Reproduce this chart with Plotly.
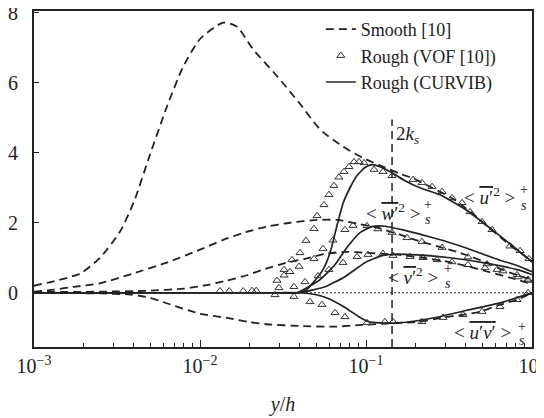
import math
import plotly.graph_objects as go

# ---------------- data ----------------
# Smooth [10] (dashed)
smooth_u_x = [0.001, 0.0019, 0.0025, 0.0033, 0.0040, 0.0050, 0.0063, 0.0079, 0.010, 0.0138, 0.0167, 0.021,
              0.029, 0.040, 0.053, 0.073, 0.095, 0.12, 0.16, 0.19, 0.25, 0.33, 0.43, 0.50, 0.57, 0.74, 0.85, 1.0]
smooth_u_y = [0.2, 0.55, 1.0, 1.75, 2.6, 3.95, 5.3, 6.45, 7.25, 7.72, 7.6, 6.94,
              6.2, 5.4, 4.66, 4.17, 3.86, 3.65, 3.4, 3.28, 3.0, 2.7, 2.3, 2.03, 1.8, 1.35, 1.15, 0.88]

smooth_w_x = [0.001, 0.00132, 0.00174, 0.0025, 0.00395, 0.0063, 0.010, 0.0138, 0.0182, 0.0253, 0.0348, 0.0507,
              0.0669, 0.092, 0.1165, 0.16, 0.192, 0.268, 0.368, 0.536, 0.668, 0.847, 1.0]
smooth_w_y = [0.03, 0.09, 0.17, 0.27, 0.55, 0.86, 1.23, 1.51, 1.71, 1.89, 2.0, 2.08,
              2.08, 1.96, 1.86, 1.66, 1.53, 1.33, 1.14, 0.86, 0.65, 0.48, 0.38]

smooth_v_x = [0.001, 0.0025, 0.005, 0.0080, 0.0110, 0.01455, 0.0192, 0.024, 0.0334, 0.0429, 0.0582, 0.0769,
              0.1014, 0.1396, 0.16, 0.2204, 0.3076, 0.406, 0.543, 0.737, 1.0]
smooth_v_y = [0.02, 0.03, 0.06, 0.12, 0.22, 0.35, 0.5, 0.66, 0.86, 0.97, 1.12, 1.17,
              1.14, 1.1, 1.08, 1.0, 0.89, 0.76, 0.6, 0.43, 0.25]

smooth_uv_x = [0.001, 0.0025, 0.0038, 0.005, 0.0063, 0.010, 0.0146, 0.020, 0.0253, 0.040, 0.0633, 0.0946,
               0.156, 0.211, 0.291, 0.384, 0.486, 0.641, 0.812, 1.0]
smooth_uv_y = [0.0, -0.02, -0.05, -0.14, -0.3, -0.6, -0.72, -0.84, -0.9, -0.95, -0.97, -0.92,
               -0.86, -0.83, -0.71, -0.63, -0.54, -0.34, -0.2, 0.0]

# Rough (CURVIB) (solid)
curvib_u_x = [0.001, 0.03, 0.0384, 0.0428, 0.048, 0.0551, 0.0607, 0.0659, 0.0727, 0.0801, 0.0883, 0.0986, 0.1087,
              0.1214, 0.1435, 0.1717, 0.211, 0.279, 0.406, 0.558, 0.737, 0.933, 1.0]
curvib_u_y = [0.0, 0.0, 0.0, 0.05, 0.29, 0.66, 1.14, 1.8, 2.55, 3.0, 3.35, 3.58, 3.66,
              3.6, 3.43, 3.2, 3.0, 2.8, 2.35, 1.85, 1.4, 1.0, 0.9]

curvib_w_x = [0.001, 0.03, 0.0384, 0.0528, 0.065, 0.0772, 0.092, 0.1087, 0.130, 0.1717, 0.253, 0.321, 0.406,
              0.507, 0.641, 0.812, 1.0]
curvib_w_y = [0.0, 0.0, 0.0, 0.37, 0.8, 1.31, 1.72, 1.89, 1.9, 1.78, 1.57, 1.43, 1.27,
              1.1, 0.93, 0.78, 0.6]

curvib_v_x = [0.001, 0.03, 0.040, 0.048, 0.0566, 0.0747, 0.0986, 0.1248, 0.1496, 0.2028, 0.321, 0.507, 0.812, 1.0]
curvib_v_y = [0.0, 0.0, 0.0, 0.08, 0.17, 0.46, 0.86, 1.06, 1.1, 1.08, 1.0, 0.86, 0.66, 0.52]

curvib_uv_x = [0.001, 0.03, 0.040, 0.0493, 0.0582, 0.0747, 0.0895, 0.1028, 0.1214, 0.160, 0.2028, 0.268, 0.406,
               0.641, 0.812, 1.0]
curvib_uv_y = [0.0, 0.0, 0.0, -0.05, -0.15, -0.42, -0.67, -0.82, -0.86, -0.86, -0.8, -0.7, -0.5,
               -0.29, -0.14, 0.0]

# Rough (VOF [10]) (triangles)
vof_u_x = [0.0132, 0.0150, 0.0182, 0.0206, 0.0218, 0.0291, 0.0321, 0.0358, 0.0400, 0.0435, 0.0486, 0.0507,
           0.0558, 0.0598, 0.0641, 0.0687, 0.0737, 0.0790, 0.0847, 0.0907, 0.0973, 0.1117, 0.1266, 0.1435,
           0.1920, 0.2175, 0.2500, 0.2870, 0.3297, 0.3787, 0.4236, 0.5000, 0.5742, 0.7364, 0.8472, 0.9594]
vof_u_y = [0.05, 0.05, 0.05, 0.06, 0.06, 0.35, 0.66, 0.94, 1.14, 1.49, 1.83, 2.2,
           2.51, 2.8, 3.06, 3.3, 3.46, 3.6, 3.74, 3.74, 3.71, 3.52, 3.46, 3.34,
           3.23, 3.14, 3.03, 2.89, 2.71, 2.57, 2.31, 2.03, 1.8, 1.33, 1.2, 0.97]

vof_w_x = [0.0321, 0.0348, 0.0395, 0.0486, 0.0551, 0.0632, 0.0747, 0.0835, 0.1014, 0.1181, 0.1435, 0.1766,
           0.2175, 0.2870, 0.4113, 0.5358, 0.6683, 0.8241, 0.9462]
vof_w_y = [0.5, 0.6, 0.75, 0.97, 1.26, 1.5, 1.8, 1.92, 1.91, 1.82, 1.72, 1.57,
           1.46, 1.29, 1.02, 0.82, 0.62, 0.45, 0.35]

vof_v_x = [0.0299, 0.0368, 0.0429, 0.0514, 0.0598, 0.0727, 0.0883, 0.1028, 0.1266, 0.1455, 0.1841, 0.2205,
           0.2679, 0.3297, 0.4113, 0.5212, 0.6152, 0.8128, 0.9462]
vof_v_y = [0.14, 0.17, 0.31, 0.48, 0.66, 0.86, 1.03, 1.09, 1.12, 1.06, 1.03, 1.0,
           0.94, 0.88, 0.8, 0.71, 0.66, 0.51, 0.38]

vof_uv_x = [0.0283, 0.0368, 0.0460, 0.0543, 0.0650, 0.0747, 0.1014, 0.1300, 0.1455, 0.2175, 0.2911, 0.3839,
            0.5000, 0.6412, 0.8128, 0.9462]
vof_uv_y = [-0.06, -0.11, -0.26, -0.34, -0.57, -0.69, -0.86, -0.83, -0.83, -0.83, -0.71, -0.63,
            -0.54, -0.4, -0.2, 0.0]

two_ks = 0.1435  # y/h position of 2k_s
two_ks_y = [-1.55, 4.95]

x_tick_vals = [0.001, 0.01, 0.1, 1]
x_tick_text = ["10<sup>\u22123</sup>", "10<sup>\u22122</sup>", "10<sup>\u22121</sup>", "10<sup>0</sup>"]
x_minor_vals = [m * d for d in (0.001, 0.01, 0.1) for m in range(2, 10)]
y_tick_vals = [0, 2, 4, 6, 8]
y_tick_text = ["0", "2", "4", "6", "8"]

# ---------------- figure ----------------
INK = "#222222"
FONT = "Liberation Serif, Times New Roman, DejaVu Serif, serif"
DASH = "8px,5px"

fig = go.Figure()

# dotted zero reference line
fig.add_trace(go.Scatter(x=[0.001, 1.0], y=[0, 0], mode="lines",
                         line=dict(color=INK, width=1, dash="2px,2px"),
                         showlegend=False, hoverinfo="skip"))
# 2k_s vertical marker
fig.add_trace(go.Scatter(x=[two_ks, two_ks], y=two_ks_y, mode="lines",
                         line=dict(color=INK, width=1.5, dash=DASH),
                         showlegend=False, hoverinfo="skip"))

smooth = [(smooth_u_x, smooth_u_y), (smooth_w_x, smooth_w_y), (smooth_v_x, smooth_v_y), (smooth_uv_x, smooth_uv_y)]
for i, (xs, ys) in enumerate(smooth):
    fig.add_trace(go.Scatter(x=xs, y=ys, mode="lines", name="Smooth [10]",
                             line=dict(color=INK, width=1.8, dash=DASH, shape="spline", smoothing=0.6),
                             showlegend=(i == 0), legendrank=1))

vof = [(vof_u_x, vof_u_y), (vof_w_x, vof_w_y), (vof_v_x, vof_v_y), (vof_uv_x, vof_uv_y)]
for i, (xs, ys) in enumerate(vof):
    fig.add_trace(go.Scatter(x=xs, y=ys, mode="markers", name="Rough (VOF [10])",
                             marker=dict(symbol="triangle-up-open", size=7, color="#333333",
                                         line=dict(width=1, color="#333333")),
                             showlegend=(i == 0), legendrank=2))

curvib = [(curvib_u_x, curvib_u_y), (curvib_w_x, curvib_w_y), (curvib_v_x, curvib_v_y), (curvib_uv_x, curvib_uv_y)]
for i, (xs, ys) in enumerate(curvib):
    fig.add_trace(go.Scatter(x=xs, y=ys, mode="lines", name="Rough (CURVIB)",
                             line=dict(color=INK, width=1.7, shape="spline", smoothing=0.5),
                             showlegend=(i == 0), legendrank=3))

# ---------------- annotations ----------------
def ann(text, x, y, xanchor="center", size=19, xshift=0):
    fig.add_annotation(x=math.log10(x), y=y, text=text, showarrow=False,
                       xanchor=xanchor, yanchor="middle", xshift=xshift,
                       font=dict(family=FONT, size=size, color=INK))

ann("2<i>k<sub>s</sub></i>", two_ks, 4.5, xanchor="left", size=19, xshift=2)

OL = '<span style="text-decoration:overline">'
ann("&lt; " + OL + "<i>u</i>\u2032</span><sup>2</sup> &gt;", 0.812, 2.77, xanchor="right")
ann("+", 0.895, 2.95, size=14)
ann("<i>s</i>", 0.89, 2.5, size=14)

ann("&lt; " + OL + "<i>w</i>\u2032</span><sup>2</sup> &gt;", 0.2175, 2.31, xanchor="right")
ann("+", 0.236, 2.52, size=14)
ann("<i>s</i>", 0.236, 2.1, size=14)

ann("&lt; " + OL + "<i>v</i>\u2032</span><sup>2</sup> &gt;", 0.279, 0.49, xanchor="right")
ann("+", 0.312, 0.68, size=14)
ann("<i>s</i>", 0.31, 0.26, size=14)

ann("&lt; " + OL + "<i>u</i>\u2032<i>v</i>\u2032</span> &gt;", 0.769, -1.14, xanchor="right")
ann("+", 0.871, -0.96, size=14)
ann("<i>s</i>", 0.865, -1.37, size=14)

# the page body adds an 8px offset, so margins are set to land the plot at the reference position
fig.update_layout(
    width=544, height=418,
    margin=dict(l=26, r=20, t=3, b=79),
    paper_bgcolor="white", plot_bgcolor="white",
    font=dict(family=FONT, size=20, color=INK),
    showlegend=True,
    legend=dict(x=0.576, y=1.0, xanchor="left", yanchor="top",
                bgcolor="rgba(0,0,0,0)", borderwidth=0,
                font=dict(family=FONT, size=18, color=INK),
                tracegroupgap=0, itemwidth=30),
    xaxis=dict(type="log", range=[-3, 0], tickvals=x_tick_vals, ticktext=x_tick_text,
               ticks="inside", ticklen=7, tickwidth=1, tickcolor=INK,
               minor=dict(tickvals=x_minor_vals, ticks="inside", ticklen=4, tickcolor=INK, tickwidth=1),
               showline=True, linecolor=INK, linewidth=2, mirror=True,
               showgrid=False, zeroline=False, automargin=False, ticklabeloverflow="allow",
               tickfont=dict(family=FONT, size=20, color=INK),
               title=dict(text="<i>y</i>/<i>h</i>", font=dict(family=FONT, size=20, color=INK), standoff=21)),
    yaxis=dict(range=[-1.55, 8.05], tickvals=y_tick_vals, ticktext=y_tick_text,
               ticks="inside", ticklen=5, tickwidth=1, tickcolor=INK,
               showline=True, linecolor=INK, linewidth=2, mirror=True,
               showgrid=False, zeroline=False, automargin=False, ticklabelstandoff=10,
               ticklabeloverflow="allow",
               tickfont=dict(family=FONT, size=20, color=INK)),
)

fig.write_html("out.html")
